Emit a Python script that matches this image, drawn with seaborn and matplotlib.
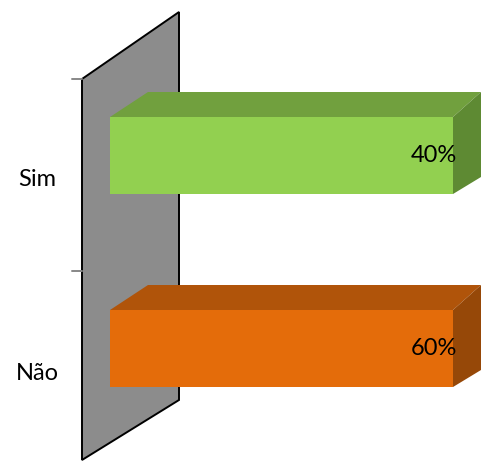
import matplotlib
matplotlib.use("Agg")
import matplotlib.pyplot as plt
from matplotlib.patches import Polygon
import seaborn as sns
import pandas as pd

# -------------------
# Dados
# -------------------
categorias = ["Sim", "Não"]
percentual = [40, 60]

# barras 100% empilhadas: cada categoria ocupa o eixo inteiro
df = pd.DataFrame({"categoria": categorias, "percentual": percentual})
df["parcela"] = df["percentual"] / df["percentual"]

cores_frente = ["#92D050", "#E46C0A"]
cores_topo = ["#71A03E", "#B0540A"]
cores_lado = ["#5E8A33", "#964808"]

sns.set_theme(style="white")
plt.rcParams["font.family"] = ["Lato", "DejaVu Sans"]

W, H = 482, 461
fig = plt.figure(figsize=(W / 100, H / 100), dpi=100)
ax = fig.add_axes([0, 0, 1, 1])

# escala em pixels -> dados
px_x = 343.0   # pixels por unidade no eixo x
px_y = 193.0   # pixels por categoria
x0_px, y0_px = 110.0, 155.5

def dado(px, py):
    return (px - x0_px) / px_x, (py - y0_px) / px_y

# -------------------
# Barras (frente)
# -------------------
sns.barplot(data=df, x="parcela", y="categoria", hue="categoria",
            palette=cores_frente, saturation=1, orient="h", width=77 / px_y,
            linewidth=0, legend=False, ax=ax, zorder=3)
barras = list(ax.patches)

# -------------------
# Parede (plano lateral 3D)
# -------------------
parede = [dado(82, 79), dado(179, 12), dado(179, 400), dado(82, 460)]
ax.add_patch(Polygon(parede, closed=True, facecolor="#8C8C8C",
                     edgecolor="black", linewidth=1.4, zorder=1))

# marcas do eixo
for py in (79, 271):
    a = dado(72, py)
    b = dado(82, py)
    ax.plot([a[0], b[0]], [a[1], b[1]], color="#888888", lw=1.4, zorder=1)

# -------------------
# Faces 3D e rótulos
# -------------------
dx_esq = 38 / px_x
dx_dir = 28 / px_x
dy_topo = -25 / px_y
dy_base = -17 / px_y

for i, p in enumerate(barras):
    x0, y0 = p.get_x(), p.get_y()
    w, h = p.get_width(), p.get_height()
    ytop, ybot = min(y0, y0 + h), max(y0, y0 + h)
    xr = x0 + w
    topo = [(x0, ytop), (xr, ytop), (xr + dx_dir, ytop + dy_topo), (x0 + dx_esq, ytop + dy_topo)]
    lado = [(xr, ytop), (xr + dx_dir, ytop + dy_topo), (xr + dx_dir, ybot + dy_base), (xr, ybot)]
    ax.add_patch(Polygon(topo, closed=True, facecolor=cores_topo[i], edgecolor="none", zorder=2.5))
    ax.add_patch(Polygon(lado, closed=True, facecolor=cores_lado[i], edgecolor="none", zorder=2.5))
    ax.annotate(f"{percentual[i]}%", xy=(xr, (ytop + ybot) / 2), xytext=(4, 0),
                textcoords="offset pixels", ha="right", va="center",
                fontsize=17, color="black", zorder=4)

# rótulos das categorias
for i, cat in enumerate(categorias):
    ax.text(dado(37, 0)[0], i + 24.5 / px_y, cat, ha="center", va="center",
            fontsize=17, color="black")

ax.set_xlim(dado(0, 0)[0], dado(W, 0)[0])
ax.set_ylim(dado(0, H)[1], dado(0, 0)[1])
ax.axis("off")

fig.savefig("out.png", dpi=100)
